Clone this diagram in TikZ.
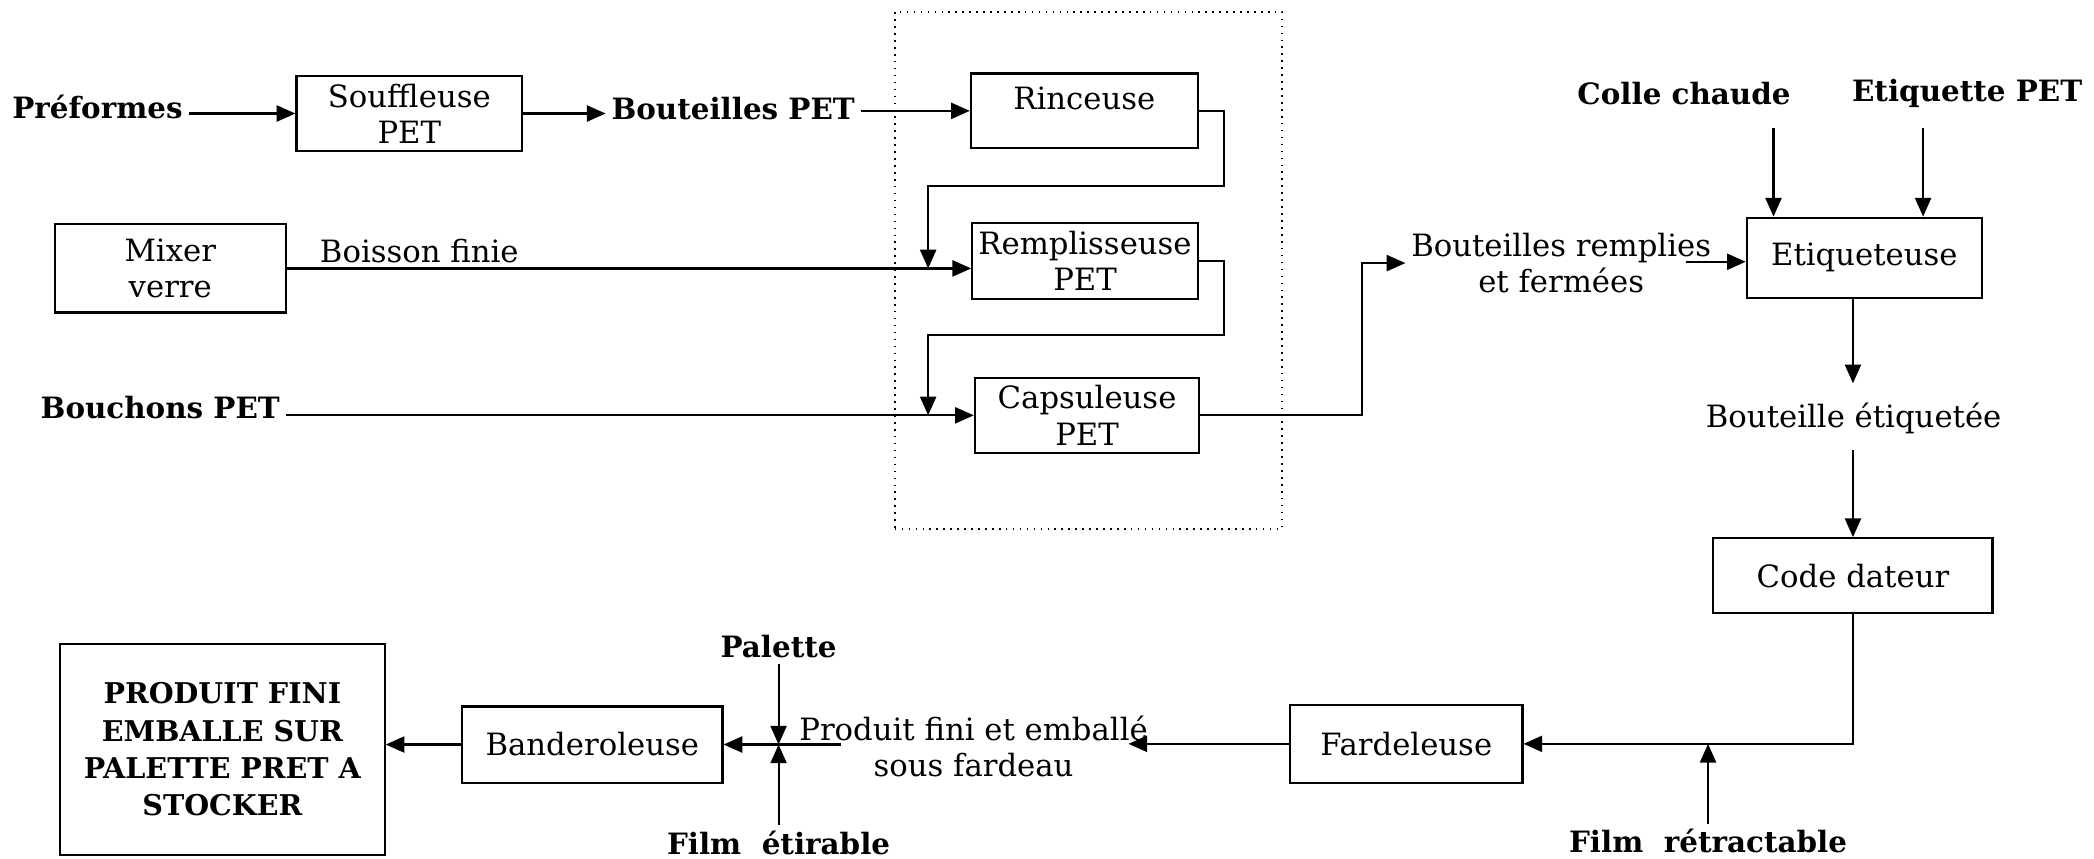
\documentclass[tikz,border=0pt]{standalone}
\usepackage{fontspec}
\setmainfont{DejaVu Serif}
\usetikzlibrary{arrows.meta,calc}
\begin{document}
\begin{tikzpicture}[x=0.5pt,y=-0.5pt,
  box/.style={draw,line width=0.8pt,inner sep=0pt,align=center,font=\fontsize{11.5}{13.5}\selectfont},
  lbl/.style={inner sep=2pt,align=center,font=\fontsize{11.5}{13.5}\selectfont},
  blbl/.style={inner sep=2pt,align=center,font=\fontsize{11}{13}\selectfont\bfseries},
  arr/.style={line width=0.8pt,-{Triangle[length=7pt,width=6pt]}}]
\useasboundingbox (0,0) rectangle (1568,643);

% dotted frame around the bottling block
\node[draw,dotted,line width=0.6pt,minimum width=145pt,minimum height=193.5pt] (grp) at (815,202.5) {};

% process boxes
\node[box,minimum width=84.5pt,minimum height=28pt] (souf) at (306.5,85) {Souffleuse\\PET};
\node[box,minimum width=85pt,minimum height=28pt] (rinc) at (812,83) {Rinceuse\\[-8pt]\strut};
\node[box,minimum width=84.5pt,minimum height=28.5pt] (remp) at (812.5,195.5) {Remplisseuse\\PET};
\node[box,minimum width=84pt,minimum height=28pt] (caps) at (814,311) {Capsuleuse\\PET};
\node[box,minimum width=86.5pt,minimum height=33pt] (mixer) at (127.5,201) {Mixer\\verre};
\node[box,minimum width=88pt,minimum height=30pt] (etiq) at (1396,193) {Etiqueteuse};
\node[box,minimum width=104.5pt,minimum height=28pt] (code) at (1387.5,431) {Code dateur};
\node[box,minimum width=87pt,minimum height=29pt] (fard) at (1053,557) {Fardeleuse};
\node[box,minimum width=97.5pt,minimum height=28.5pt] (band) at (443.5,557.5) {Banderoleuse};
\node[box,minimum width=121.5pt,minimum height=79pt,text depth=0pt,font=\fontsize{10.7}{14}\selectfont\bfseries] (prod) at (166.5,561)
  {PRODUIT FINI\\EMBALLE SUR\\PALETTE PRET A\\STOCKER};

% flow labels
\node[blbl] (pref) at (73,80) {Préformes};
\node[blbl] (btpet) at (549,81) {Bouteilles PET};
\node[lbl] (boisson) at (314,188) {Boisson finie};
\node[blbl] (bouch) at (120,305) {Bouchons PET};
\node[lbl] (brf) at (1169,197) {Bouteilles remplies\\et fermées};
\node[blbl] (colle) at (1261,70) {Colle chaude};
\node[blbl] (etpet) at (1473,70) {Etiquette PET};
\node[lbl] (betiq) at (1388,313) {Bouteille étiquetée};
\node[lbl] (pfe) at (729,559) {Produit fini et emballé\\sous fardeau};
\node[blbl] (palette) at (583,484) {Palette};
\node[blbl] (filme) at (583,631) {Film~~étirable};
\node[blbl] (filmr) at (1279,630) {Film~~rétractable};

% junctions and free ends
\coordinate (j1) at (695,201);
\coordinate (j2) at (695,311);
\coordinate (cc) at (1328,96);
\coordinate (ec) at (1440,96);
\coordinate (pr) at (845,558);
\coordinate (pl) at (630,558);

% connectors
\draw[arr] (pref.east |- souf.west) -- (souf.west);
\draw[arr] (souf.east) -- (souf.east -| btpet.west);
\draw[arr] (btpet.east |- rinc.west) -- (rinc.west);
\draw[arr] (rinc.east) -- ++(19,0) |- ($(j1)+(0,-62)$) -- (j1);
\draw[arr] (mixer.east) -- (mixer.east -| remp.west);
\draw[arr] (remp.east) -- ++(19,0) |- ($(j2)+(0,-60)$) -- (j2);
\draw[arr] (bouch.east |- caps.west) -- (caps.west);
\draw[arr] (caps.east) -- ++(121,0) |- (brf.west);
\draw[arr] ($(etiq.west)+(-45,3)$) -- ($(etiq.west)+(0,3)$);
\draw[arr] (cc) -- (cc |- etiq.north);
\draw[arr] (ec) -- (ec |- etiq.north);
\draw[arr] (code.north |- etiq.south) -- ($(code.north |- betiq.north)+(0,-10)$);
\draw[arr] ($(code.north |- betiq.south)+(0,8)$) -- (code.north);
\draw[arr] (code.south) |- (fard.east);
\draw[arr] (filmr.north) -- (filmr.north |- fard.east);
\draw[arr] (fard.west) -- (fard.west -| pr);
\draw[arr] (band.east -| pl) -- (band.east);
\draw[arr] (palette.south) -- (palette.south |- band.east);
\draw[arr] (filme.north) -- (filme.north |- band.east);
\draw[arr] (band.west) -- (band.west -| prod.east);
\end{tikzpicture}
\end{document}
